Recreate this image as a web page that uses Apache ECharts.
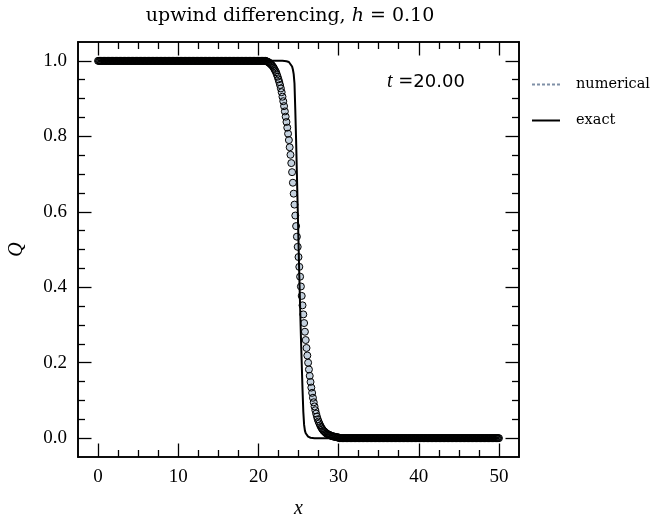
<!DOCTYPE html>
<html>
<head>
<meta charset="utf-8">
<script src="https://cdn.jsdelivr.net/npm/echarts@6/dist/echarts.min.js"></script>
<style>
  html, body { margin: 0; padding: 0; background: #fff; }
  #chart { width: 652px; height: 519px; }
</style>
</head>
<body>
<div id="chart"></div>
<script>
// grid spacing of the numerical solution (x = i * h)
const h = 0.1
// numerical Q at x = 0.0, 0.1, ..., 50.0
const numQ = [
  1,1,1,1,1,1,1,1,1,1, 1,1,1,1,1,1,1,1,1,1, 1,1,1,1,1,1,1,1,1,1, // 0.0 - 2.9
  1,1,1,1,1,1,1,1,1,1, 1,1,1,1,1,1,1,1,1,1, 1,1,1,1,1,1,1,1,1,1, // 3.0 - 5.9
  1,1,1,1,1,1,1,1,1,1, 1,1,1,1,1,1,1,1,1,1, 1,1,1,1,1,1,1,1,1,1, // 6.0 - 8.9
  1,1,1,1,1,1,1,1,1,1, 1,1,1,1,1,1,1,1,1,1, 1,1,1,1,1,1,1,1,1,1, // 9.0 - 11.9
  1,1,1,1,1,1,1,1,1,1, 1,1,1,1,1,1,1,1,1,1, 1,1,1,1,1,1,1,1,1,1, // 12.0 - 14.9
  1,1,1,1,1,1,1,1,1,1, 1,1,1,1,1,1,1,1,1,1, 1,1,1,1,1,1,1,1,1,1, // 15.0 - 17.9
  1,1,1,1,1,1,1,1,1,1, 1,1,1,1,1,1,1,1,1,1, 1,1,1,1,1,1,1,1,1,1, // 18.0 - 20.9
  0.999, 0.998, 0.997, 0.996, 0.994, 0.992, 0.990, 0.988, 0.985, 0.982, // 21.0 - 21.9
  0.978, 0.974, 0.970, 0.964, 0.958, 0.951, 0.944, 0.936, 0.927, 0.917, // 22.0 - 22.9
  0.905, 0.893, 0.880, 0.866, 0.852, 0.838, 0.823, 0.807, 0.790, 0.771, // 23.0 - 23.9
  0.751, 0.729, 0.705, 0.677, 0.648, 0.619, 0.590, 0.562, 0.534, 0.507, // 24.0 - 24.9
  0.480, 0.454, 0.428, 0.402, 0.377, 0.352, 0.328, 0.305, 0.282, 0.260, // 25.0 - 25.9
  0.239, 0.219, 0.200, 0.182, 0.165, 0.149, 0.134, 0.120, 0.107, 0.095, // 26.0 - 26.9
  0.084, 0.074, 0.065, 0.057, 0.050, 0.044, 0.039, 0.034, 0.030, 0.026, // 27.0 - 27.9
  0.023, 0.020, 0.018, 0.016, 0.014, 0.012, 0.011, 0.010, 0.009, 0.008, // 28.0 - 28.9
  0.007, 0.006, 0.005, 0.005, 0.004, 0.004, 0.003, 0.003, 0.002, 0.002, // 29.0 - 29.9
  0.002, // 30.0
  0,0,0,0,0,0,0,0,0,0, 0,0,0,0,0,0,0,0,0,0, 0,0,0,0,0,0,0,0,0,0, 0,0,0,0,0,0,0,0,0,0, // 30.1 - 34.0
  0,0,0,0,0,0,0,0,0,0, 0,0,0,0,0,0,0,0,0,0, 0,0,0,0,0,0,0,0,0,0, 0,0,0,0,0,0,0,0,0,0, // 34.1 - 38.0
  0,0,0,0,0,0,0,0,0,0, 0,0,0,0,0,0,0,0,0,0, 0,0,0,0,0,0,0,0,0,0, 0,0,0,0,0,0,0,0,0,0, // 38.1 - 42.0
  0,0,0,0,0,0,0,0,0,0, 0,0,0,0,0,0,0,0,0,0, 0,0,0,0,0,0,0,0,0,0, 0,0,0,0,0,0,0,0,0,0, // 42.1 - 46.0
  0,0,0,0,0,0,0,0,0,0, 0,0,0,0,0,0,0,0,0,0, 0,0,0,0,0,0,0,0,0,0, 0,0,0,0,0,0,0,0,0,0  // 46.1 - 50.0
]
// exact solution
const exactX = [0, 23.0, 23.5, 23.8, 24.0, 24.2, 24.3, 24.4, 24.5, 24.6, 24.7, 24.8, 24.9, 25.0,
  25.1, 25.2, 25.3, 25.4, 25.5, 25.6, 25.7, 25.8, 25.9, 26.0, 26.2, 26.5, 27.0, 50]
const exactQ = [1, 1, 0.999, 0.997, 0.993, 0.985, 0.977, 0.965, 0.94, 0.87, 0.79, 0.70, 0.61, 0.52,
  0.43, 0.35, 0.27, 0.20, 0.13, 0.07, 0.035, 0.02, 0.013, 0.008, 0.004, 0.001, 0, 0]
// ticks
const xTicks = [0, 10, 20, 30, 40, 50]
const xMinor = [2.5, 5, 7.5, 12.5, 15, 17.5, 22.5, 25, 27.5, 32.5, 35, 37.5, 42.5, 45, 47.5]
const yTicks = [0, 0.2, 0.4, 0.6, 0.8, 1.0]
const yMinor = [0.05, 0.1, 0.15, 0.25, 0.3, 0.35, 0.45, 0.5, 0.55, 0.65, 0.7, 0.75, 0.85, 0.9, 0.95]
const tValue = '20.00'

const chart = echarts.init(document.getElementById('chart'))

const tickFont = { fontFamily: 'Liberation Serif', fontSize: 19, color: '#000' }

function axis(kind, position, values, len, withLabels) {
  return {
    type: 'value',
    position: position,
    min: kind === 'x' ? -2.5 : -0.05,
    max: kind === 'x' ? 52.5 : 1.05,
    axisLine: { show: true, onZero: false, lineStyle: { color: '#000', width: 1.6 } },
    axisTick: { show: true, inside: true, length: len, customValues: values, lineStyle: { color: '#000', width: 1.3 } },
    axisLabel: { show: withLabels, customValues: values, margin: 11, ...tickFont,
      formatter: kind === 'x' ? (v) => String(v) : (v) => v.toFixed(1) },
    splitLine: { show: false },
    axisPointer: { show: false }
  }
}

const xMain = axis('x', 'bottom', xTicks, 13.5, true)
xMain.name = 'x'
xMain.nameLocation = 'middle'
xMain.nameGap = 42
xMain.nameTextStyle = { fontFamily: 'Liberation Serif', fontStyle: 'italic', fontSize: 20, color: '#000' }

const yMain = axis('y', 'left', yTicks, 13.5, true)
yMain.name = 'Q'
yMain.nameLocation = 'middle'
yMain.nameGap = 51
yMain.nameTextStyle = { fontFamily: 'Liberation Serif', fontStyle: 'italic', fontSize: 20, color: '#000' }

const numData = numQ.map((q, i) => [Number((i * h).toFixed(1)), q])

const option = {
  animation: false,
  grid: { left: 78, right: 133, top: 42, bottom: 62, containLabel: false, outerBoundsMode: 'none' },
  xAxis: [
    xMain,
    axis('x', 'bottom', xMinor, 7, false),
    axis('x', 'top', xTicks, 13.5, false),
    axis('x', 'top', xMinor, 7, false)
  ],
  yAxis: [
    yMain,
    axis('y', 'left', yMinor, 7, false),
    axis('y', 'right', yTicks, 13.5, false),
    axis('y', 'right', yMinor, 7, false)
  ],
  legend: {
    orient: 'vertical',
    left: 532,
    top: 77,
    padding: 0,
    itemWidth: 28,
    itemHeight: 2,
    itemGap: 21,
    textStyle: { fontFamily: 'DejaVu Serif', fontSize: 14.5, color: '#000', padding: [0, 0, 0, 11] },
    data: [
      { name: 'numerical', icon: 'path://M0,0h3v2h-3z M5,0h3v2h-3z M10,0h3v2h-3z M15,0h3v2h-3z M20,0h3v2h-3z M25,0h3v2h-3z',
        itemStyle: { color: '#7f8fa6', borderWidth: 0 } },
      { name: 'exact', icon: 'rect', itemStyle: { color: '#000', borderWidth: 0 } }
    ]
  },
  graphic: [
    {
      type: 'text', x: 290, y: 16,
      style: {
        text: '{a|upwind differencing, }{b|h}{a| = 0.10}',
        align: 'center', verticalAlign: 'middle',
        rich: {
          a: { fontFamily: 'DejaVu Serif', fontSize: 19, fill: '#000' },
          b: { fontFamily: 'DejaVu Serif', fontStyle: 'italic', fontSize: 19, fill: '#000' }
        }
      }
    },
    {
      type: 'text', x: 387, y: 82,
      style: {
        text: '{i|t}{e| =}{n|' + tValue + '}',
        verticalAlign: 'middle',
        rich: {
          i: { fontFamily: 'Liberation Serif', fontStyle: 'italic', fontSize: 20, fill: '#000' },
          e: { fontFamily: 'DejaVu Serif', fontSize: 18, fill: '#000' },
          n: { fontFamily: 'DejaVu Sans', fontSize: 18, fill: '#000' }
        }
      }
    }
  ],
  series: [
    {
      // marker faces
      name: 'numerical',
      type: 'scatter',
      symbol: 'circle',
      symbolSize: 7,
      silent: true,
      itemStyle: { color: '#c4d1de', borderWidth: 0, opacity: 1 },
      data: numData
    },
    {
      // marker edges, drawn over all faces
      name: 'numerical',
      type: 'scatter',
      symbol: 'circle',
      symbolSize: 7,
      silent: true,
      itemStyle: { color: 'rgba(0,0,0,0)', borderColor: '#000', borderWidth: 1, opacity: 1 },
      data: numData
    },
    {
      name: 'exact',
      type: 'line',
      showSymbol: false,
      silent: true,
      lineStyle: { color: '#000', width: 2 },
      data: exactX.map((x, i) => [x, exactQ[i]])
    }
  ]
}
chart.setOption(option)
</script>
</body>
</html>
